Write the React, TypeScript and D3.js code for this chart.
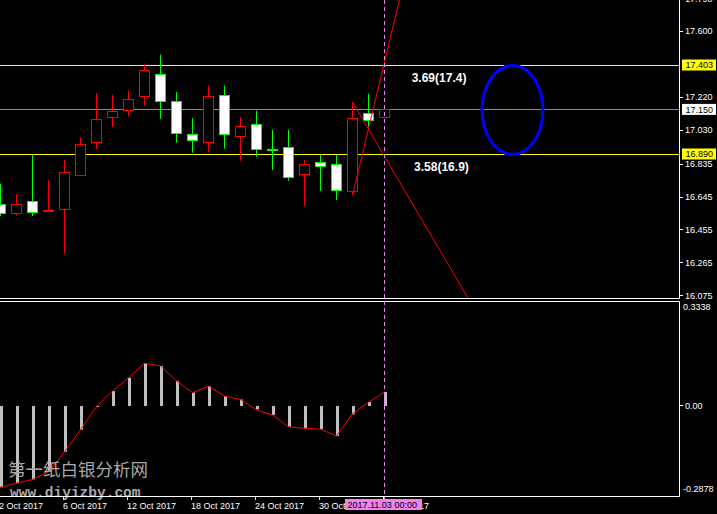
import React from 'react';
import * as d3 from 'd3';

const W = 717;
const H = 514;

// Daily candles, 2 Oct 2017 .. 3 Nov 2017
const opens = [16.603, 16.552, 16.624, 16.564, 16.578, 16.772, 16.960, 17.105, 17.146, 17.225, 17.354, 17.198, 17.007, 16.960, 17.233, 16.995, 17.065, 16.920, 16.931, 16.775, 16.844, 16.838, 16.682, 17.128, 17.109];
const highs = [16.722, 16.661, 16.887, 16.742, 16.858, 16.989, 17.244, 17.234, 17.258, 17.414, 17.466, 17.250, 17.099, 17.287, 17.287, 17.107, 17.142, 17.032, 17.032, 16.858, 16.887, 16.887, 17.192, 17.240, 17.152];
const lows = [16.535, 16.539, 16.535, 16.558, 16.320, 16.770, 16.921, 17.049, 17.109, 17.172, 17.095, 16.958, 16.900, 16.906, 16.923, 16.854, 16.877, 16.801, 16.738, 16.593, 16.680, 16.627, 16.655, 17.047, 17.107];
const closes = [16.552, 16.607, 16.560, 16.572, 16.792, 16.949, 17.094, 17.142, 17.210, 17.378, 17.198, 17.012, 16.972, 17.227, 17.007, 17.053, 16.920, 16.918, 16.763, 16.833, 16.821, 16.688, 17.099, 17.088, 17.150];

// MACD histogram values
const macd = [-0.262, -0.249, -0.237, -0.212, -0.148, -0.077, -0.002, 0.048, 0.091, 0.138, 0.129, 0.081, 0.043, 0.064, 0.032, 0.021, -0.011, -0.029, -0.067, -0.072, -0.075, -0.097, -0.027, 0.013, 0.045];
const signal = [-0.262, -0.249, -0.237, -0.212, -0.148, -0.077, -0.002, 0.048, 0.091, 0.138, 0.129, 0.081, 0.043, 0.064, 0.032, 0.021, -0.013, -0.029, -0.067, -0.072, -0.075, -0.097, -0.025, 0.012, 0.045];

const priceTicks = [16.075, 16.265, 16.455, 16.645, 16.835, 17.03, 17.22, 17.6, 17.79];
const priceTickLabels = ["16.075", "16.265", "16.455", "16.645", "16.835", "17.030", "17.220", "17.600", "17.790"];

const levelValues = [17.403, 16.890];
const levelTags = ["17.403", "16.890"];
const levelTexts = ["3.69(17.4)", "3.58(16.9)"];
const levelTextBars = [25.7, 25.85];

const bidPrice = 17.150;
const bidTag = "17.150";

// trend lines: [startBar, startPrice, endBar, endPrice]
const trendStartBars = [22, 22];
const trendStartPrices = [17.192, 16.655];
const trendEndBars = [29.3, 25.0];
const trendEndPrices = [16.05, 17.806];

// ellipse: bar range and price range
const ellipseBars = [30.1, 33.9];
const ellipsePrices = [16.890, 17.403];

const dateTickBars = [0, 4, 8, 12, 16, 20, 24];
const dateTickLabels = ["2 Oct 2017", "6 Oct 2017", "12 Oct 2017", "18 Oct 2017", "24 Oct 2017", "30 Oct 2017", "3 Nov 2017"];

const cursorBar = 24;
const cursorLabel = "2017.11.03 00:00";

const macdTicks = [0.3338, 0, -0.2878];
const macdTickLabels = ["0.3338", "0.00", "-0.2878"];

const watermarkCn = "第一纸白银分析网";
const watermarkUrl = "www.diyizby.com";

export default function App() {
  const x = d3.scaleLinear().domain([0, 1]).range([0.5, 16.5]);
  const y = d3.scaleLinear().domain([16.89, 17.403]).range([154.5, 65.5]);
  const ym = d3.scaleLinear().domain([-0.2878, 0.3338]).range([495.2, 302.5]);
  const crisp = (v: number) => Math.floor(v) + 0.5;
  const font = "'Liberation Sans', Arial, sans-serif";
  const axisX = 679.5;

  const sigLine = d3
    .line<number>()
    .x((_, i) => x(i))
    .y((d) => ym(d))(signal) as string;

  const zeroY = crisp(ym(0));

  return (
    <svg
      width={W}
      height={H}
      style={{ position: 'fixed', left: 0, top: 0, display: 'block', background: '#000' }}
    >
      <rect x={0} y={0} width={W} height={H} fill="#000" />
      <defs>
        <clipPath id="mainClip">
          <rect x={0} y={0} width={679} height={298} />
        </clipPath>
        <clipPath id="indClip">
          <rect x={0} y={302} width={679} height={194} />
        </clipPath>
      </defs>

      {/* main panel */}
      <g clipPath="url(#mainClip)">
        {levelValues.map((v, k) => (
          <line key={'lv' + k} x1={0} x2={axisX} y1={crisp(y(v))} y2={crisp(y(v))} stroke="#ffff00" strokeWidth={1} />
        ))}
        <line x1={0} x2={axisX} y1={crisp(y(bidPrice))} y2={crisp(y(bidPrice))} stroke="#8c8c8c" strokeWidth={1} />

        {opens.map((o, i) => {
          const c = closes[i];
          const up = c >= o;
          const col = up ? '#ff0000' : '#00ff00';
          const fill = up ? '#000000' : '#ffffff';
          const cx = x(i);
          const yt = Math.round(y(Math.max(o, c)));
          const yb = Math.round(y(Math.min(o, c)));
          const hgt = Math.max(yb - yt, 1);
          return (
            <g key={'c' + i}>
              <line x1={cx} x2={cx} y1={y(highs[i])} y2={y(lows[i])} stroke={col} strokeWidth={1} />
              <rect x={cx - 5} y={yt + 0.5} width={10} height={hgt} fill={fill} stroke={col} strokeWidth={1} />
            </g>
          );
        })}

        {trendStartBars.map((b, k) => (
          <line
            key={'tl' + k}
            x1={x(b)}
            y1={y(trendStartPrices[k])}
            x2={x(trendEndBars[k])}
            y2={y(trendEndPrices[k])}
            stroke="#ff0000"
            strokeWidth={1}
          />
        ))}

        <ellipse
          cx={(x(ellipseBars[0]) + x(ellipseBars[1])) / 2}
          cy={(y(ellipsePrices[0]) + y(ellipsePrices[1])) / 2}
          rx={(x(ellipseBars[1]) - x(ellipseBars[0])) / 2}
          ry={(y(ellipsePrices[0]) - y(ellipsePrices[1])) / 2}
          fill="none"
          stroke="#0000ff"
          strokeWidth={3}
        />

        {levelTexts.map((t, k) => (
          <text
            key={'lt' + k}
            x={x(levelTextBars[k])}
            y={y(levelValues[k]) + 16.5}
            fill="#ffffff"
            fontFamily={font}
            fontWeight="bold"
            fontSize={12}
          >
            {t}
          </text>
        ))}
      </g>

      {/* indicator panel */}
      <g clipPath="url(#indClip)">
        {macd.map((v, i) => {
          const y0 = ym(0);
          const y1 = ym(v);
          return (
            <rect
              key={'m' + i}
              x={x(i) - 0.5}
              y={Math.min(y0, y1)}
              width={3}
              height={Math.max(Math.abs(y1 - y0), 1)}
              fill="#c0c0c0"
            />
          );
        })}
        <path d={sigLine} fill="none" stroke="#ff0000" strokeWidth={1} />
      </g>

      {/* watermark */}
      <text x={8} y={476} fill="#a8a8a8" fontFamily="'Noto Sans CJK SC', sans-serif" fontSize={17.5}>
        {watermarkCn}
      </text>
      <text
        x={10}
        y={497}
        fill="#a8a8a8"
        fontFamily="'Liberation Mono', 'DejaVu Sans Mono', monospace"
        fontWeight="bold"
        fontSize={14.5}
      >
        {watermarkUrl}
      </text>

      {/* frames */}
      <line x1={0} x2={axisX} y1={298.5} y2={298.5} stroke="#ffffff" />
      <line x1={0} x2={axisX} y1={301.5} y2={301.5} stroke="#ffffff" />
      <line x1={0} x2={axisX} y1={496.5} y2={496.5} stroke="#ffffff" />
      <line x1={axisX} x2={axisX} y1={0} y2={298.5} stroke="#ffffff" />
      <line x1={axisX} x2={axisX} y1={301.5} y2={496.5} stroke="#ffffff" />

      {/* price axis */}
      {priceTicks.map((p, k) => (
        <g key={'pt' + k}>
          <line x1={axisX} x2={683} y1={crisp(y(p))} y2={crisp(y(p))} stroke="#ffffff" />
          <text x={685} y={y(p)} dy="0.35em" fill="#ffffff" fontFamily={font} fontSize={9}>
            {priceTickLabels[k]}
          </text>
        </g>
      ))}
      {levelValues.map((v, k) => (
        <g key={'tag' + k}>
          <rect x={682} y={y(v) - 6} width={34} height={11} fill="#ffff00" />
          <text x={685.5} y={y(v)} dy="0.33em" fill="#000000" fontFamily={font} fontSize={9}>
            {levelTags[k]}
          </text>
        </g>
      ))}
      <rect x={682} y={y(bidPrice) - 5.5} width={34} height={11} fill="#ffffff" />
      <text x={685.5} y={y(bidPrice)} dy="0.35em" fill="#000000" fontFamily={font} fontSize={9}>
        {bidTag}
      </text>

      {/* macd axis */}
      <line x1={axisX} x2={683} y1={zeroY} y2={zeroY} stroke="#ffffff" />
      {macdTicks.map((v, k) => {
        let ty = ym(v);
        if (k === 0) ty = ym(v) + 4.5;
        if (k === 2) ty = ym(v) - 6;
        return (
          <text key={'mt' + k} x={v === 0 ? 685 : 683} y={ty} dy="0.35em" fill="#ffffff" fontFamily={font} fontSize={9}>
            {macdTickLabels[k]}
          </text>
        );
      })}

      {/* date axis */}
      {dateTickBars.map((b, k) => (
        <g key={'dt' + k}>
          <line x1={crisp(x(b)) - 1} x2={crisp(x(b)) - 1} y1={496.5} y2={500} stroke="#ffffff" />
          <text x={x(b) - 1.5} y={509} fill="#ffffff" fontFamily={font} fontSize={9}>
            {dateTickLabels[k]}
          </text>
        </g>
      ))}

      {/* cursor */}
      <line
        x1={x(cursorBar)}
        x2={x(cursorBar)}
        y1={0}
        y2={499}
        stroke="#ee82ee"
        strokeWidth={1}
        strokeDasharray="4,3"
      />
      <rect x={x(cursorBar) - 39.5} y={499} width={77} height={11} fill="#ee82ee" />
      <text x={x(cursorBar) - 37} y={508.3} fill="#000000" fontFamily={font} fontSize={9}>
        {cursorLabel}
      </text>
    </svg>
  );
}
